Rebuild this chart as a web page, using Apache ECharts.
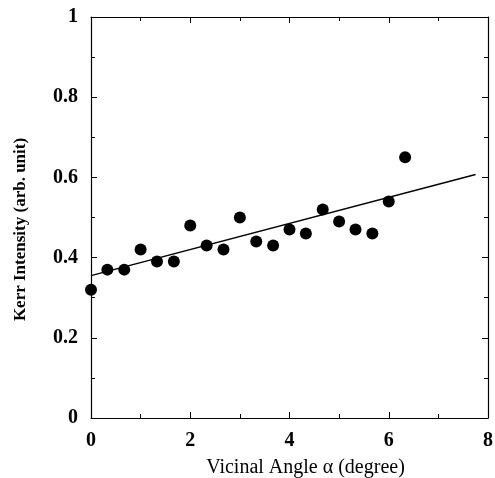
<!DOCTYPE html>
<html>
<head>
<meta charset="utf-8">
<script src="https://cdn.jsdelivr.net/npm/echarts@6/dist/echarts.min.js"></script>
<style>
  html, body { margin: 0; padding: 0; background: #fff; }
  #chart { width: 495px; height: 478px; }
</style>
</head>
<body>
<div id="chart"></div>
<script>
const angles = [0, 0.33, 0.67, 1.0, 1.33, 1.67, 2.0, 2.33, 2.67, 3.0, 3.33, 3.67, 4.0, 4.33, 4.67, 5.0, 5.33, 5.67, 6.0, 6.33]
const kerr = [0.32, 0.37, 0.37, 0.42, 0.39, 0.39, 0.48, 0.43, 0.42, 0.50, 0.44, 0.43, 0.47, 0.46, 0.52, 0.49, 0.47, 0.46, 0.54, 0.65]
const fitX = [0, 7.75]
const fitY = [0.355, 0.607]

const chart = echarts.init(document.getElementById("chart"))
const font = "Liberation Serif"

const axisBase = {
  type: "value",
  axisLine: { show: true, onZero: false, lineStyle: { color: "#000", width: 1.2 } },
  axisTick: { show: true, inside: true, length: 6, lineStyle: { color: "#000" } },
  minorTick: { show: true, splitNumber: 2, length: 4, lineStyle: { color: "#000" } },
  splitLine: { show: false },
}

const option = {
  animation: false,
  grid: { left: 91, right: 7, top: 17, bottom: 60, outerBoundsMode: "none" },
  xAxis: [
    {
      ...axisBase,
      min: 0, max: 8, interval: 2,
      position: "bottom",
      axisLabel: { fontFamily: font, fontSize: 20, fontWeight: "bold", color: "#000", margin: 13 },
      name: "Vicinal Angle α (degree)",
      nameLocation: "middle",
      nameGap: 40,
      nameTextStyle: { fontFamily: font, fontSize: 20, color: "#000", padding: [0, 0, 0, 32] },
    },
    {
      ...axisBase,
      min: 0, max: 8, interval: 2,
      position: "top",
      axisLabel: { show: false },
    },
  ],
  yAxis: [
    {
      ...axisBase,
      min: 0, max: 1, interval: 0.2,
      position: "left",
      axisLabel: { fontFamily: font, fontSize: 20, fontWeight: "bold", color: "#000", margin: 13 },
      name: "Kerr Intensity (arb. unit)",
      nameLocation: "middle",
      nameGap: 62,
      nameTextStyle: { fontFamily: font, fontSize: 17, fontWeight: "bold", color: "#000", padding: [0, 24, 0, 0] },
    },
    {
      ...axisBase,
      min: 0, max: 1, interval: 0.2,
      position: "right",
      axisLabel: { show: false },
    },
  ],
  series: [
    {
      type: "line",
      data: fitX.map((x, i) => [x, fitY[i]]),
      showSymbol: false,
      lineStyle: { color: "#000", width: 1.5 },
      z: 1,
    },
    {
      type: "scatter",
      data: angles.map((x, i) => [x, kerr[i]]),
      symbolSize: 12,
      itemStyle: { color: "#000", opacity: 1 },
      z: 2,
    },
  ],
}

chart.setOption(option)
</script>
</body>
</html>
